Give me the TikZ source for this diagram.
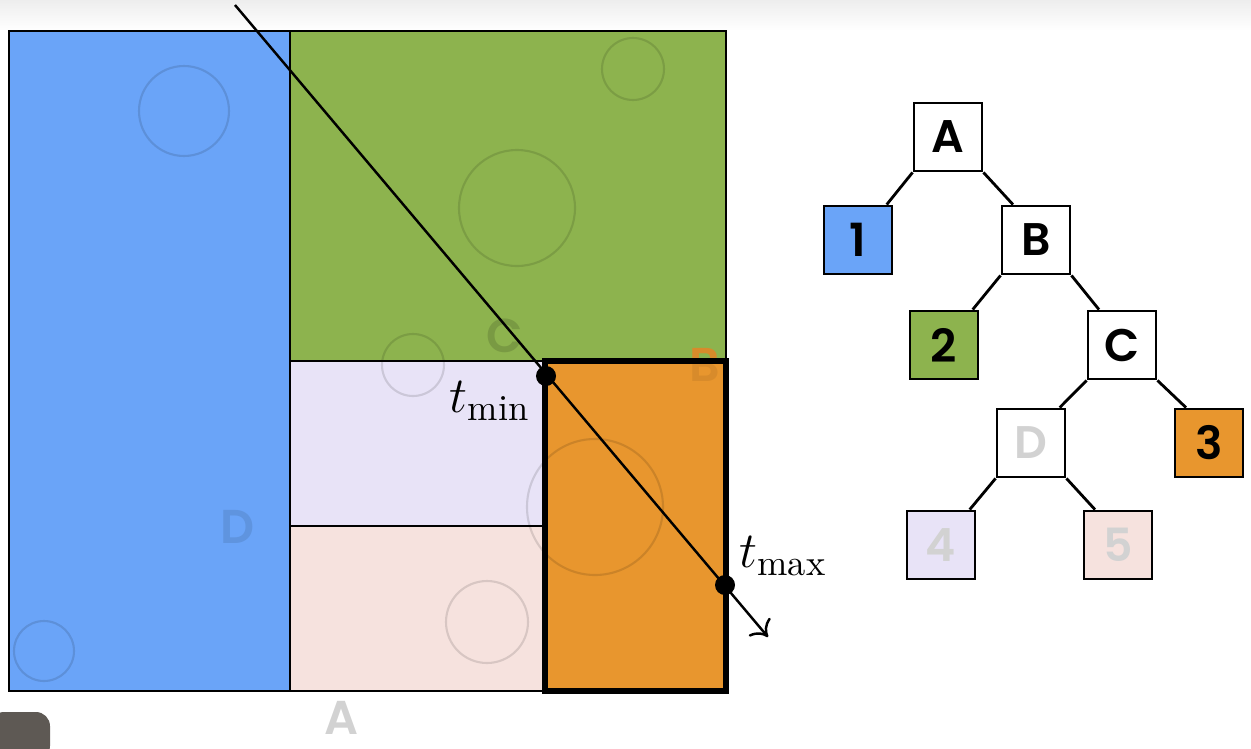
\documentclass[tikz,border=0pt]{standalone}
\usepackage{fontspec}
\newfontfamily\treefont{Poppins}[BoldFont={* SemiBold}]
\usetikzlibrary{arrows.meta}
\definecolor{leafblue}{HTML}{6AA4F8}
\definecolor{leafgreen}{HTML}{8DB34E}
\definecolor{leaforange}{HTML}{E8962E}
\definecolor{leaflilac}{HTML}{E8E3F7}
\definecolor{leafpink}{HTML}{F6E2DE}
\definecolor{fadedtext}{HTML}{D2D2D2}
\definecolor{camgray}{HTML}{5E5954}
\tikzset{
  region/.style = {draw=black, line width=0.6pt},
  blob/.style = {draw=black, draw opacity=0.12, line width=0.6pt},
  treebox/.style = {draw, fill=white, line width=0.8pt, minimum size=0.68cm, inner sep=0pt,
    font=\treefont\bfseries\fontsize{13}{15}\selectfont},
  ghost/.style = {font=\treefont\bfseries\fontsize{13.5}{15}\selectfont},
  hit/.style = {circle, fill=black, minimum size=0.2cm, inner sep=0pt},
  tlabel/.style = {font=\fontsize{14.8}{17}\selectfont, inner sep=0pt}
}
\begin{document}
\begin{tikzpicture}[x=0.01cm, y=-0.01cm]
\useasboundingbox (0,0) rectangle (1251,748);
\shade[top color=black!7, bottom color=white] (0,0) rectangle (1251,30);
\fill[camgray, rounded corners=4] (-10,712) rectangle (50,760);
% cells of the tree
\fill[leafblue] (9,31) rectangle (290,691);
\fill[leafgreen] (290,31) rectangle (726,361);
\fill[leaflilac] (290,361) rectangle (545,526);
\fill[leafpink] (290,526) rectangle (545,691);
\fill[leaforange] (545,361) rectangle (726,691);
% objects
\draw[blob] (184,111) circle[radius=45];
\draw[blob] (44,651) circle[radius=30];
\draw[blob] (517,208) circle[radius=58];
\draw[blob] (633,69) circle[radius=31];
\draw[blob] (413,365) circle[radius=31];
\draw[blob] (595,507) circle[radius=68];
\draw[blob] (487,622) circle[radius=41];
% split names
\node[ghost, text=black!14!leafgreen] (sC) at (505,336) {C};
\node[ghost, text=black!7!leaforange] (sB) at (705,365) {B};
\node[ghost, text=black!10!leafblue] (sD) at (238,527) {D};
\node[ghost, text=fadedtext, inner sep=0pt] (sA) at (341,718) {A};
% borders
\draw[region] (9,31) rectangle (726,691);
\draw[region] (290,31) -- (290,691);
\draw[region] (290,361) -- (726,361);
\draw[region] (290,526) -- (545,526);
\draw[line width=1.5pt] (545,361) rectangle (726,691);
% ray
\coordinate (rayin) at (235,5);
\coordinate (rayout) at (768,637);
\draw[line width=0.7pt, -{To[length=4pt, width=8pt]}] (rayin) -- (rayout);
\node[hit] (hmin) at (546,376) {};
\node[hit] (hmax) at (725,585) {};
\node[tlabel, anchor=east] (lmin) at (531,401) {$t_{\min}$};
\node[tlabel, anchor=west] (lmax) at (739,556) {$t_{\max}$};
% tree
\begin{scope}[every node/.style = {treebox}]
\node (A) at (948,137) {A};
\node[fill=leafblue] (n1) at (858,240) {1};
\node (B) at (1036,240) {B};
\node[fill=leafgreen] (n2) at (944,345) {2};
\node (C) at (1122,345) {C};
\node[text=fadedtext] (D) at (1031,443) {D};
\node[fill=leaforange] (n3) at (1209,443) {3};
\node[fill=leaflilac, text=fadedtext] (n4) at (941,545) {4};
\node[fill=leafpink, text=fadedtext] (n5) at (1118,545) {5};
\end{scope}
\begin{scope}[every path/.style = {draw, line width=0.8pt}]
\path (A.south west) -- (n1.51);
\path (A.south east) -- (B.123);
\path (B.south west) -- (n2.51);
\path (B.south east) -- (C.123);
\path (C.south west) -- (D.51);
\path (C.south east) -- (n3.123);
\path (D.south west) -- (n4.51);
\path (D.south east) -- (n5.123);
\end{scope}
\end{tikzpicture}
\end{document}
